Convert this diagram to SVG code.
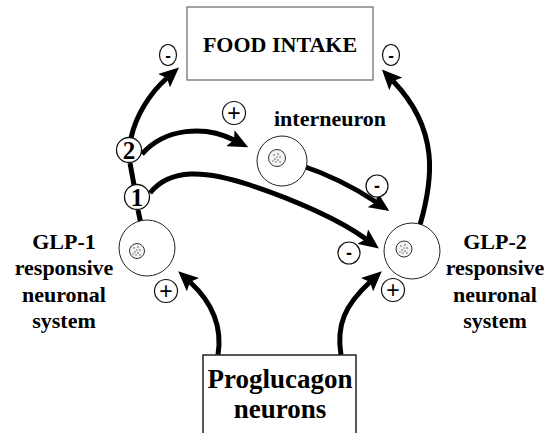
<svg xmlns="http://www.w3.org/2000/svg" width="554" height="433" viewBox="0 0 554 433">
<style>
.t{font-family:"Liberation Serif","Times New Roman",serif;font-weight:bold;fill:#000;text-anchor:middle}
.cell{fill:#fff;stroke:#222;stroke-width:1}
.nuc{fill:#f4f4f4;stroke:#333;stroke-width:1}
.sg{fill:#fff;stroke:#111;stroke-width:1.2}
.num{fill:#fff;stroke:#111;stroke-width:1.3}
.c{fill:none;stroke:#000;stroke-width:5}
.sym{font-family:"Liberation Sans",Arial,sans-serif;text-anchor:middle;fill:#000}
</style>
<defs>
<marker id="ah" markerUnits="userSpaceOnUse" markerWidth="20" markerHeight="18" viewBox="0 0 20 18" refX="4" refY="9" orient="auto">
<path d="M0,0 L20,9 L0,18 L4,9 z" fill="#000"/>
</marker>
<g id="dots">
<circle cx="-3" cy="-3" r="0.8" fill="#555"/><circle cx="1" cy="-4" r="0.8" fill="#555"/><circle cx="3" cy="-1" r="0.8" fill="#555"/><circle cx="-2" cy="1" r="0.8" fill="#555"/><circle cx="1" cy="2" r="0.8" fill="#555"/><circle cx="-4" cy="3" r="0.7" fill="#555"/><circle cx="3" cy="4" r="0.7" fill="#555"/><circle cx="0" cy="-1" r="0.7" fill="#555"/><circle cx="-1" cy="4" r="0.7" fill="#555"/>
</g>
</defs>
<rect width="554" height="433" fill="#fff"/>

<g id="connectors">
<path class="c" d="M131,138 C136,115 150,93 167,78" marker-end="url(#ah)"/>
<path class="c" d="M142,154 C165,128 205,125 234,140" marker-end="url(#ah)"/>
<path class="c" d="M150,193 C170,168 205,170 250,185 S340,220 366,239" marker-end="url(#ah)"/>
<path class="c" d="M300,165 C330,175 355,188 376,202" marker-end="url(#ah)"/>
<path class="c" d="M420,225 C433,180 440,130 393,81" marker-end="url(#ah)"/>
<path class="c" d="M218,355 C222,330 215,305 190,282" marker-end="url(#ah)"/>
<path class="c" d="M341,355 C336,325 345,305 370,282" marker-end="url(#ah)"/>
<path class="c" d="M130,163 L134,185"/>
<path class="c" d="M138,210 L141,224"/>
</g>

<g id="food-intake">
<rect x="187" y="7" width="186" height="73" fill="#fff" stroke="#666" stroke-width="1.2"/>
<text class="t" x="280" y="52" font-size="22">FOOD INTAKE</text>
</g>

<g id="proglucagon">
<rect x="203" y="355" width="153" height="90" fill="#fff" stroke="#222" stroke-width="1.5"/>
<text class="t" x="280" y="388" font-size="27">Proglucagon</text>
<text class="t" x="280" y="418" font-size="27">neurons</text>
</g>

<g id="interneuron">
<circle class="cell" cx="282" cy="161" r="25"/>
<circle class="nuc" cx="277" cy="158" r="8.5"/>
<use href="#dots" x="277" y="158"/>
<text class="t" x="330" y="126" font-size="22">interneuron</text>
</g>

<g id="glp1">
<circle class="cell" cx="147" cy="248" r="28"/>
<circle class="nuc" cx="137" cy="251" r="7.5"/>
<use href="#dots" x="137" y="251"/>
<text class="t" x="64" y="249" font-size="22">GLP-1</text>
<text class="t" x="64" y="275" font-size="22">responsive</text>
<text class="t" x="64" y="302" font-size="22">neuronal</text>
<text class="t" x="64" y="328" font-size="22">system</text>
</g>

<g id="glp2">
<circle class="cell" cx="412" cy="251" r="28"/>
<circle class="nuc" cx="404" cy="249" r="8"/>
<use href="#dots" x="404" y="249"/>
<text class="t" x="495" y="249" font-size="22">GLP-2</text>
<text class="t" x="495" y="275" font-size="22">responsive</text>
<text class="t" x="495" y="302" font-size="22">neuronal</text>
<text class="t" x="495" y="328" font-size="22">system</text>
</g>

<g id="path-2">
<circle class="num" cx="129" cy="150" r="12.5"/>
<text class="t" x="129" y="159" font-size="25">2</text>
</g>
<g id="path-1">
<circle class="num" cx="137" cy="197" r="12.5"/>
<text class="t" x="137" y="206" font-size="25">1</text>
</g>

<g id="signs">
<ellipse class="sg" cx="168" cy="55" rx="8.5" ry="10.5"/>
<text class="sym" x="168" y="61" font-size="17" font-weight="bold">-</text>
<ellipse class="sg" cx="391" cy="55" rx="8.5" ry="10.5"/>
<text class="sym" x="391" y="61" font-size="17" font-weight="bold">-</text>
<circle class="sg" cx="377" cy="186" r="11"/>
<text class="sym" x="377" y="192" font-size="18" font-weight="bold">-</text>
<circle class="sg" cx="349" cy="253" r="11"/>
<text class="sym" x="349" y="259" font-size="18" font-weight="bold">-</text>
<circle class="sg" cx="234" cy="113" r="11.5"/>
<text class="sym" x="234" y="121" font-size="23">+</text>
<circle class="sg" cx="166" cy="291" r="11.5"/>
<text class="sym" x="166" y="299" font-size="23">+</text>
<circle class="sg" cx="393" cy="290" r="11.5"/>
<text class="sym" x="393" y="298" font-size="23">+</text>
</g>
</svg>
